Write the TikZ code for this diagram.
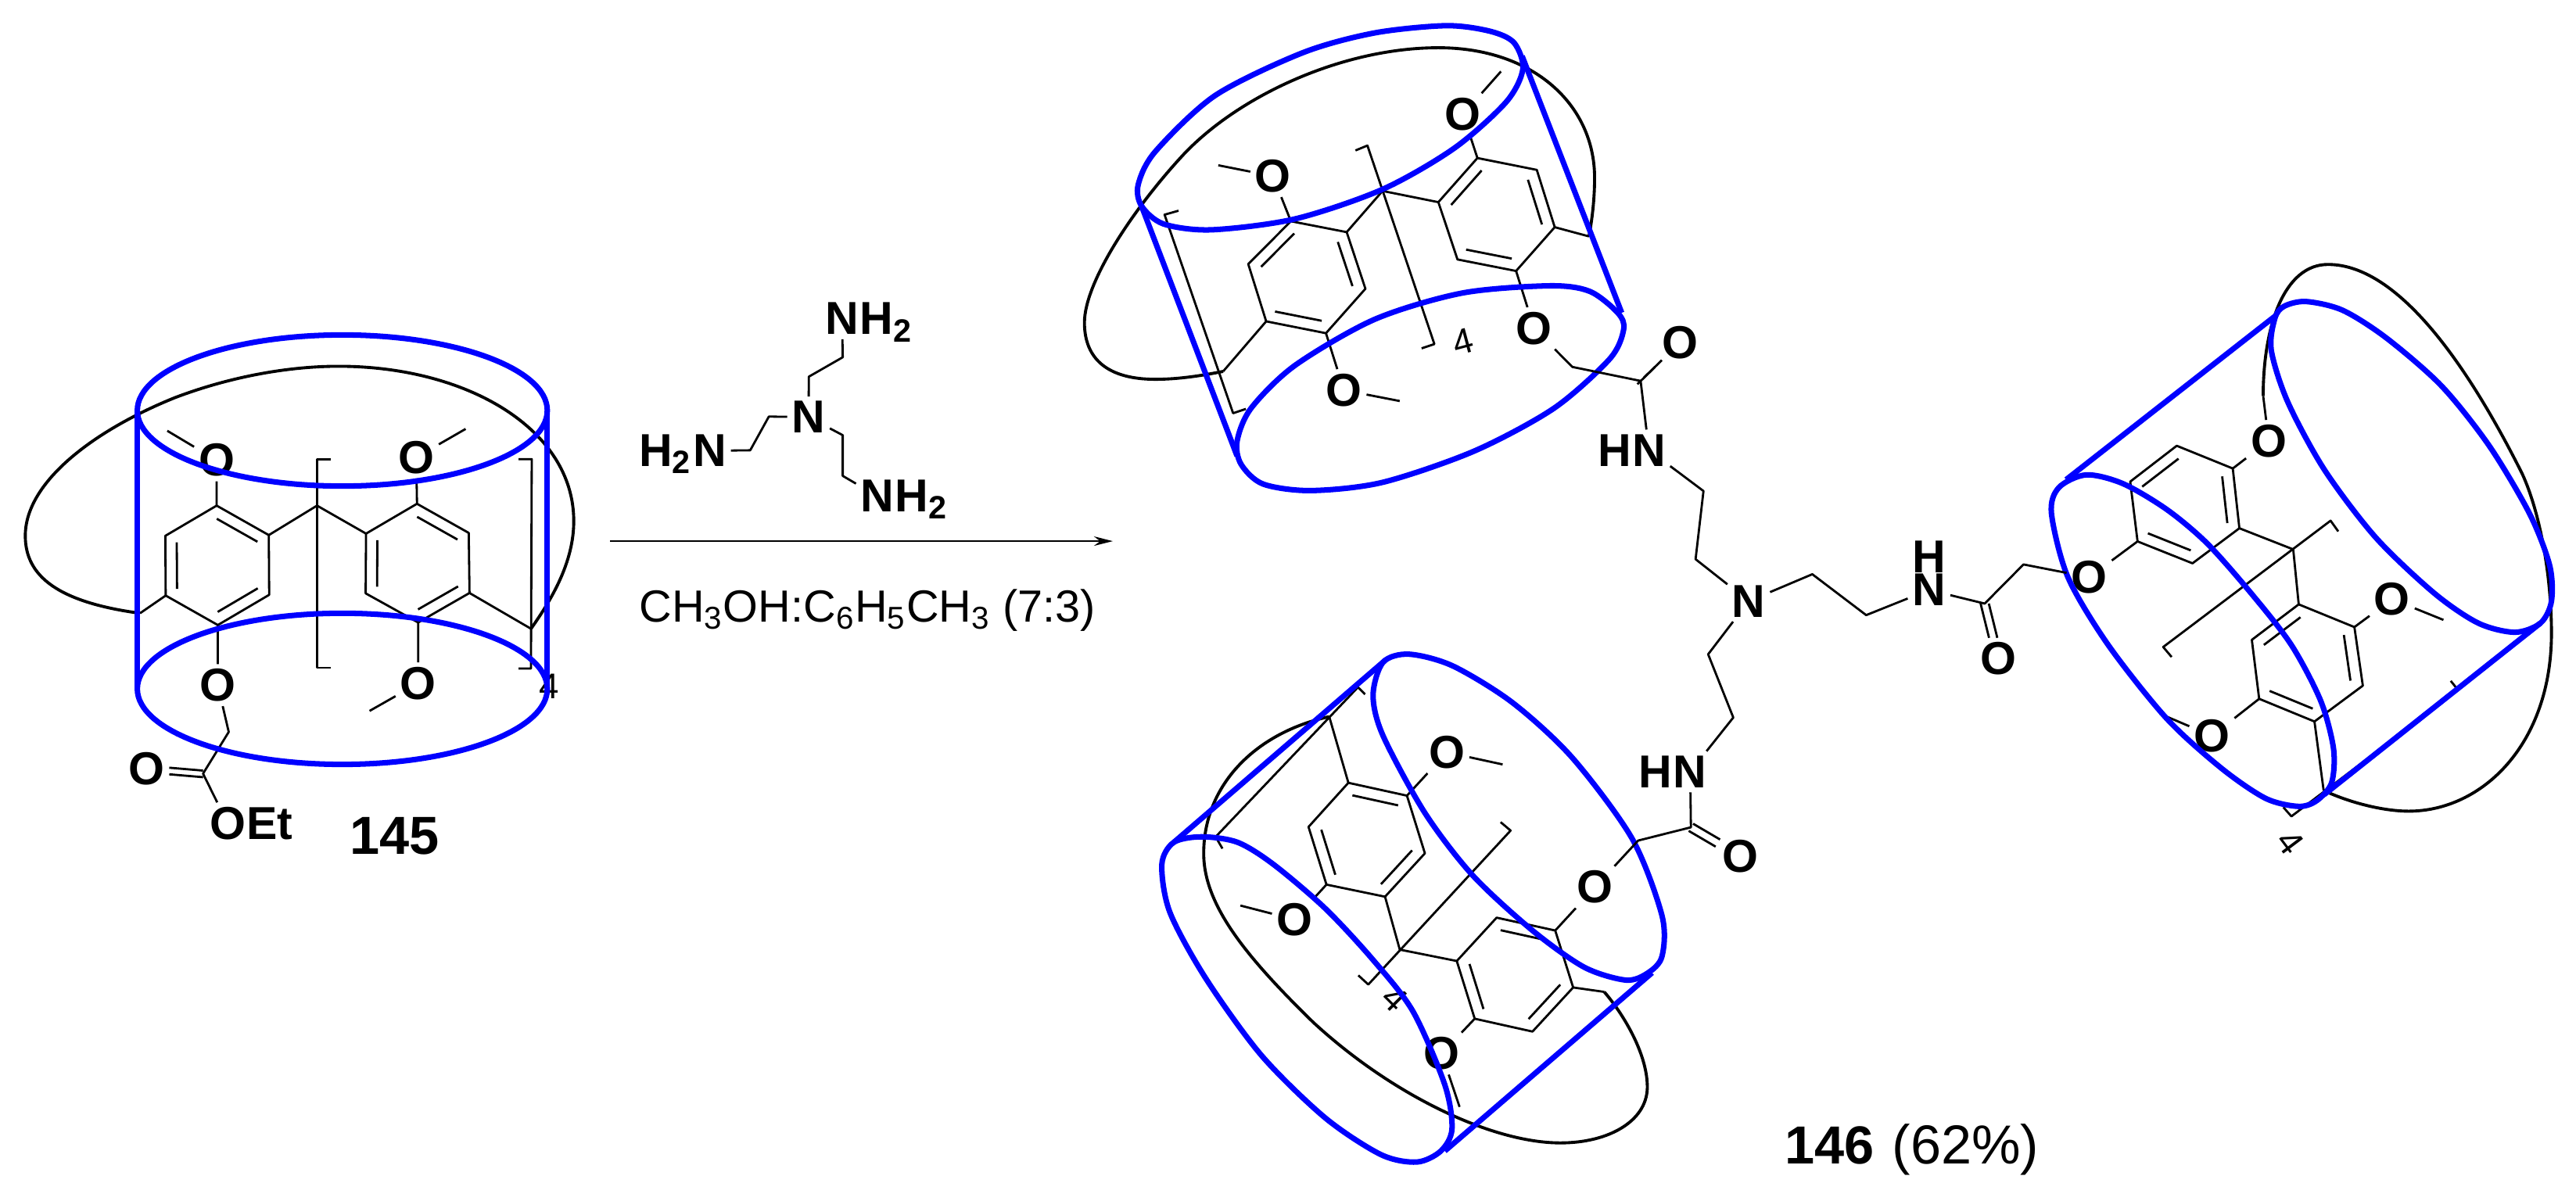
\documentclass[tikz,border=0pt]{standalone}
\usepackage{fontspec}
\setmainfont{Liberation Sans}
\usetikzlibrary{positioning,calc,arrows.meta}

\tikzset{
  bond/.style={black,line width=0.8pt,line join=round},
  loopline/.style={black,line width=1.1pt},
  cage/.style={blue,line width=2pt},
  atom/.style={font=\fontsize{16.8}{18}\selectfont\bfseries,inner sep=1.5pt},
  plain/.style={font=\fontsize{16.4}{18}\selectfont,inner sep=0pt},
  compound/.style={font=\fontsize{19.5}{22}\selectfont\bfseries,inner sep=0pt},
  yieldtext/.style={font=\fontsize{20}{22}\selectfont,inner sep=0pt},
  repeat/.style={font=\fontsize{13}{14}\selectfont,inner sep=0pt},
}

% ring with three inner bonds, on sides 1-2, 3-4 and 5-6
\newcommand{\benzene}[7]{
  \coordinate (#11) at (#2);
  \coordinate (#12) at (#3);
  \coordinate (#13) at (#4);
  \coordinate (#14) at (#5);
  \coordinate (#15) at (#6);
  \coordinate (#16) at (#7);
  \coordinate (#1c) at ($(#11)!.5!(#14)$);
  \draw[bond] (#11) -- (#12) -- (#13) -- (#14) -- (#15) -- (#16) -- cycle;
  \foreach \i/\j in {1/2,3/4,5/6}
    \draw[bond] ($(#1\i)!.22!(#1c)$) -- ($(#1\j)!.22!(#1c)$);
}

\begin{document}
\begin{tikzpicture}
\useasboundingbox (0,0) rectangle (32.94,-15.36);
\fill[white] (0,0) rectangle (32.94,-15.36);

% 145
\begin{scope}[shift={(0cm,-3.6cm)},x=0.004974cm,y=-0.004719cm]
\benzene{a}{557,608}{691,688}{692,850}{560,932}{426,852}{425,690}
\benzene{b}{1072,603}{1205,682}{1207,845}{1075,925}{940,846}{941,684}
\coordinate (ac) at (815,608);
\coordinate (ad) at (1365,942);
\coordinate (ae) at (360,900);
\coordinate (am1) at (430,405);
\coordinate (am2) at (1197,400);
\coordinate (am3) at (950,1165);
\coordinate (ach) at (588,1222);
\coordinate (aco) at (522,1335);
\node[atom] (ao1) at (557,485) {O};
\node[atom] (ao2) at (1070,477) {O};
\node[atom] (ao3) at (1075,1090) {O};
\node[atom] (ao4) at (560,1095) {O};
\node[atom] (ao5) at (377,1322) {O};
\node[atom] (ao6) at (585,1470) {O};
\node[atom,base right=-3pt of ao6] (aet) {Et};
\node[compound] (lab145) at (1015,1505) {145};
\node[repeat] (an) at (1412,1098) {4};
\draw[bond] (a2) -- (ac) -- (b6);
\draw[bond] (b3) -- (ad);
\draw[bond] (a5) -- (ae);
\draw[bond] (a1) -- (ao1) -- (am1);
\draw[bond] (b1) -- (ao2) -- (am2);
\draw[bond] (b4) -- (ao3) -- (am3);
\draw[bond] (a4) -- (ao4) -- (ach) -- (aco) -- (ao6);
\draw[bond,transform canvas={yshift=1.1pt}] (aco) -- (ao5);
\draw[bond,transform canvas={yshift=-1.3pt}] (aco) -- (ao5);
\draw[bond] (850,482) -- (816,482) -- (816,1048) -- (850,1048);
\draw[bond] (1333,482) -- (1367,482) -- (1365,1050) -- (1333,1050);
\draw[loopline] (ae) .. controls (150,870) and (65,800) .. (65,690) .. controls (65,540) and (250,400) .. (450,315) .. controls (600,255) and (750,230) .. (870,230) .. controls (1200,230) and (1475,400) .. (1475,650) .. controls (1475,760) and (1420,860) .. (ad);
\draw[cage] (880,350) ellipse [x radius=527,y radius=205];
\draw[cage] (880,1105) ellipse [x radius=527,y radius=205];
\draw[cage] (353,350) -- (353,1105);
\draw[cage] (1407,350) -- (1407,1105);
\end{scope}

% triamine and reaction arrow
\begin{scope}[shift={(7.6cm,-2.8cm)},x=0.004337cm,y=-0.003444cm]
\node[atom] (tn) at (632,735) {N};
\node[atom] (tn1) at (731,370) {N};
\node[atom,base right=-3pt of tn1] (th1) {H\textsubscript{2}};
\node[atom] (tn2) at (340,860) {N};
\node[atom,base left=-3pt of tn2] (th2) {H\textsubscript{2}};
\node[atom] (tn3) at (835,1028) {N};
\node[atom,base right=-3pt of tn3] (th3) {H\textsubscript{2}};
\coordinate (t1a) at (633,585);
\coordinate (t1b) at (733,513);
\coordinate (t2a) at (515,733);
\coordinate (t2b) at (460,858);
\coordinate (t3a) at (733,802);
\coordinate (t3b) at (733,953);
\draw[bond] (tn) -- (t1a) -- (t1b) -- (tn1);
\draw[bond] (tn) -- (t2a) -- (t2b) -- (tn2);
\draw[bond] (tn) -- (t3a) -- (t3b) -- (tn3);
\coordinate (arrowa) at (47,1195);
\coordinate (arrowb) at (1530,1195);
\draw[bond,-{Stealth[length=0.24cm,width=0.12cm]}] (arrowa) -- (arrowb);
\node[plain,anchor=base] (solvent) at (806,1495) {CH\textsubscript{3}OH:C\textsubscript{6}H\textsubscript{5}CH\textsubscript{3} (7:3)};
\end{scope}

% 146, upper arm
\begin{scope}[shift={(13.5cm,0cm)},x=0.005102cm,y=-0.004209cm]
\benzene{c}{730,705}{777,877}{678,1012}{528,976}{483,802}{590,672}
\benzene{d}{960,614}{1058,480}{1207,516}{1252,690}{1155,823}{1008,788}
\coordinate (cc) at (820,580);
\coordinate (cd) at (420,1128);
\coordinate (ce) at (1338,718);
\coordinate (cm1) at (408,502);
\coordinate (cm2) at (1117,217);
\coordinate (cm3) at (863,1218);
\node[atom] (co1) at (545,535) {O};
\node[atom] (co2) at (1022,347) {O};
\node[atom] (co3) at (723,1185) {O};
\node[atom] (co4) at (1200,997) {O};
\node[repeat,rotate=15] (cn) at (1022,1037) {4};
\draw[bond] (c1) -- (cc) -- (d1);
\draw[bond] (c4) -- (cd);
\draw[bond] (d4) -- (ce);
\draw[bond] (c6) -- (co1) -- (cm1);
\draw[bond] (d2) -- (co2) -- (cm2);
\draw[bond] (c3) -- (co3) -- (cm3);
\draw[bond] (d5) -- (co4);
\draw[bond] (308,640) -- (273,652) -- (445,1255) -- (477,1242);
\draw[bond] (752,457) -- (782,442) -- (950,1045) -- (918,1058);
\draw[loopline] (cd) .. controls (370,1140) and (310,1152) .. (250,1152) .. controls (130,1152) and (72,1090) .. (72,980) .. controls (72,860) and (190,640) .. (320,470) .. controls (460,290) and (720,145) .. (960,145) .. controls (1200,145) and (1352,320) .. (1352,540) .. controls (1352,610) and (1345,670) .. (ce);
\draw[cage] plot[smooth cycle] coordinates {(980,78) (1090,95) (1150,130) (1172,210) (1130,310) (1000,450) (820,575) (600,665) (390,698) (270,680) (215,625) (207,560) (250,460) (400,290) (620,160) (800,100)};
\draw[cage] plot[smooth cycle] coordinates {(1240,868) (1340,885) (1410,950) (1425,1000) (1390,1090) (1250,1240) (1050,1370) (820,1465) (640,1490) (520,1470) (465,1410) (455,1340) (490,1240) (600,1110) (800,970) (1020,890)};
\draw[cage] (1170,170) -- (1420,950);
\draw[cage] (215,625) -- (455,1385);
\end{scope}

% 146, lower arm
\begin{scope}[shift={(14.5cm,-8cm)},x=0.005102cm,y=-0.004694cm]
\benzene{e}{538,428}{685,463}{730,620}{630,738}{483,705}{438,548}
\benzene{f}{910,795}{1057,830}{1102,985}{1000,1105}{855,1070}{810,913}
\coordinate (ec) at (667,882);
\coordinate (ed) at (490,248);
\coordinate (ee) at (1180,997);
\coordinate (em1) at (925,378);
\coordinate (em2) at (267,762);
\coordinate (em3) at (817,1310);
\node[atom] (eo1) at (785,345) {O};
\node[atom] (eo2) at (403,800) {O};
\node[atom] (eo3) at (772,1165) {O};
\node[atom] (eo4) at (1157,712) {O};
\node[repeat,rotate=-45] (en) at (655,1015) {4};
\draw[bond] (e4) -- (ec) -- (f6);
\draw[bond] (e1) -- (ed);
\draw[bond] (f3) -- (ee);
\draw[bond] (e2) -- (eo1) -- (em1);
\draw[bond] (e5) -- (eo2) -- (em2);
\draw[bond] (f5) -- (eo3) -- (em3);
\draw[bond] (f2) -- (eo4);
\draw[bond] (920,535) -- (945,558) -- (588,977) -- (563,952);
\draw[bond] (580,187) -- (562,168) -- (205,575) -- (222,607);
\draw[loopline] (ee) .. controls (1230,1060) and (1290,1170) .. (1288,1260) .. controls (1285,1350) and (1190,1408) .. (1070,1408) .. controls (900,1408) and (650,1280) .. (450,1080) .. controls (280,900) and (175,760) .. (175,620) .. controls (175,430) and (310,290) .. (ed);
\draw[cage] plot[smooth cycle] coordinates {(690,78) (800,110) (950,210) (1100,360) (1250,580) (1325,790) (1325,900) (1290,945) (1235,965) (1130,930) (1000,830) (850,680) (730,510) (625,300) (600,190) (625,100)};
\draw[cage] plot[smooth cycle] coordinates {(170,575) (260,590) (350,650) (480,770) (600,910) (700,1050) (780,1250) (798,1370) (770,1430) (710,1460) (620,1440) (480,1340) (320,1170) (180,960) (90,780) (70,650) (100,590)};
\draw[cage] (630,95) -- (100,590);
\draw[cage] (1300,945) -- (780,1430);
\end{scope}

% 146, right arm
\begin{scope}[shift={(25.6cm,-3cm)},x=0.004681cm,y=-0.005102cm]
\benzene{g}{477,530}{350,620}{370,770}{520,825}{648,737}{630,587}
\benzene{h}{810,928}{682,1017}{702,1165}{853,1222}{985,1132}{962,985}
\coordinate (gc) at (795,790);
\coordinate (gd) at (713,405);
\coordinate (ge) at (878,1395);
\coordinate (gm1) at (1205,967);
\coordinate (gm2) at (430,1202);
\node[atom] (go1) at (728,518) {O};
\node[atom] (go2) at (1065,915) {O};
\node[atom] (go3) at (573,1258) {O};
\node[atom] (go4) at (238,860) {O};
\node[repeat,rotate=-53] (gn) at (787,1525) {4};
\draw[bond] (g5) -- (gc) -- (h1);
\draw[bond] (h4) -- (ge);
\draw[bond] (g6) -- (go1) -- (gd);
\draw[bond] (h6) -- (go2) -- (gm1);
\draw[bond] (h3) -- (go3) -- (gm2);
\draw[bond] (g3) -- (go4);
\draw[bond] (918,745) -- (897,718) -- (440,1035) -- (463,1060);
\draw[bond] (1225,1120) -- (1245,1143) -- (790,1460) -- (768,1437);
\draw[loopline] (gd) .. controls (713,230) and (770,75) .. (890,75) .. controls (1100,75) and (1300,380) .. (1420,600) .. controls (1470,700) and (1500,860) .. (1500,1000) .. controls (1500,1280) and (1310,1447) .. (1110,1447) .. controls (1050,1447) and (960,1430) .. (ge);
\draw[cage] plot[smooth cycle] coordinates {(830,168) (930,190) (1050,260) (1200,380) (1330,530) (1440,700) (1495,830) (1500,920) (1470,975) (1400,998) (1300,975) (1180,900) (1020,760) (880,590) (780,420) (735,290) (745,210) (770,180)};
\draw[cage] plot[smooth cycle] coordinates {(230,603) (330,625) (450,690) (560,775) (680,900) (790,1030) (870,1170) (905,1290) (900,1375) (860,1420) (810,1435) (720,1415) (600,1340) (450,1215) (290,1030) (180,860) (135,700) (155,635)};
\draw[cage] (175,615) -- (745,205);
\draw[cage] (1470,975) -- (880,1405);
\end{scope}

% tris(2-aminoethyl) core with its three amides
\begin{scope}[shift={(19.5cm,-4cm)},x=0.004592cm,y=-0.004464cm]
\node[atom] (n) at (623,825) {N};
\node[atom] (n1) at (345,393) {N};
\node[atom,base left=-3pt of n1] (h1) {H};
\node[atom] (n2) at (1125,793) {N};
\node[atom,above=-3pt of n2] (h2) {H};
\node[atom] (n3) at (460,1313) {N};
\node[atom,base left=-3pt of n3] (h3) {H};
\node[atom] (o1) at (432,85) {O};
\node[atom] (o2) at (1318,990) {O};
\node[atom] (o3) at (600,1555) {O};
\coordinate (p1) at (475,705);
\coordinate (p2) at (497,510);
\coordinate (q1) at (800,748);
\coordinate (q2) at (950,865);
\coordinate (r1) at (510,977);
\coordinate (r2) at (580,1158);
\coordinate (k1) at (322,195);
\coordinate (k2) at (1280,832);
\coordinate (k3) at (462,1472);
\coordinate (l1) at (132,155);
\coordinate (l2) at (1388,720);
\coordinate (l3) at (315,1510);
\draw[bond] (n) -- (p1) -- (p2) -- (n1) -- (k1) -- (l1) -- (co4);
\draw[bond] (n) -- (q1) -- (q2) -- (n2) -- (k2) -- (l2) -- (go4);
\draw[bond] (n) -- (r1) -- (r2) -- (n3) -- (k3) -- (l3) -- (eo4);
\draw[bond,transform canvas={shift={(-1.2pt,-1.2pt)}}] (k1) -- (o1);
\draw[bond,transform canvas={shift={(1.2pt,1.2pt)}}] (k1) -- (o1);
\draw[bond,transform canvas={shift={(-1.5pt,0pt)}}] (k2) -- (o2);
\draw[bond,transform canvas={shift={(1.5pt,0pt)}}] (k2) -- (o2);
\draw[bond,transform canvas={shift={(0.8pt,1.3pt)}}] (k3) -- (o3);
\draw[bond,transform canvas={shift={(-0.8pt,-1.3pt)}}] (k3) -- (o3);
\end{scope}

\node[compound,anchor=base west] (lab146) at (22.82,-14.88) {146};
\node[yieldtext,anchor=base west] (yield) at (24.19,-14.88) {(62\%)};
\end{tikzpicture}
\end{document}
